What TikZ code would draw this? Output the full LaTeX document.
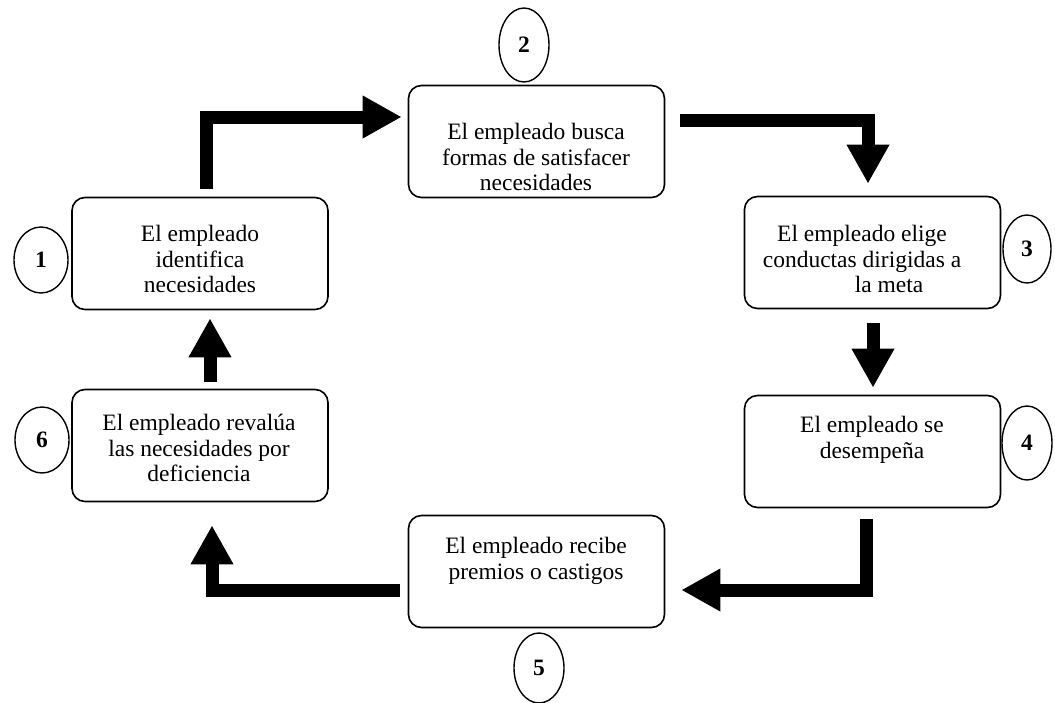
\documentclass[tikz,border=0pt]{standalone}
\usepackage{fontspec}
\setmainfont{Liberation Serif}
\usetikzlibrary{shapes.geometric,arrows.meta,calc}
\begin{document}
\begin{tikzpicture}[x=1pt,y=-1pt,
  box/.style={draw=black,line width=1.6pt,rounded corners=13pt,minimum width=256pt,minimum height=112pt,inner sep=0pt},
  txt/.style={align=center,inner sep=0pt,font=\fontsize{23.5}{25.5}\selectfont},
  num/.style={draw=black,line width=1.4pt,ellipse,inner sep=0pt,font=\fontsize{23.5}{23.5}\selectfont\bfseries},
  blk/.style={line width=13pt,line join=miter,-{Triangle[width=40pt,length=39pt]}}]
\useasboundingbox (0,0) rectangle (1055,702);
% boxes
\node[box] (b1) at (200,253.5) {};
\node[box] (b2) at (536.5,141.5) {};
\node[box] (b3) at (872.5,252.5) {};
\node[box] (b4) at (872.5,451.5) {};
\node[box] (b5) at (536.5,571.5) {};
\node[box] (b6) at (200,445.5) {};
% texts
\node[txt] (t1) at (200,259) {El empleado\\identifica\\necesidades};
\node[txt] (t2) at (536,157) {El empleado busca\\formas de satisfacer\\necesidades};
\node[txt] (t3) at (862,259) {El empleado elige\\conductas dirigidas a\\\hspace*{54pt}la meta};
\node[txt] (t4) at (872,440) {El empleado se\\desempeña};
\node[txt] (t5) at (536,561) {El empleado recibe\\premios o castigos};
\node[txt] (t6) at (199,448) {El empleado revalúa\\las necesidades por\\deficiencia};
% numbers
\node[num,minimum width=54pt,minimum height=66pt] (c1) at (41,260) {1};
\node[num,minimum width=50pt,minimum height=74pt] (c2) at (524,45) {2};
\node[num,minimum width=48pt,minimum height=68pt] (c3) at (1027,249) {3};
\node[num,minimum width=50pt,minimum height=74pt] (c4) at (1027,443) {4};
\node[num,minimum width=50pt,minimum height=70pt] (c5) at (539,668) {5};
\node[num,minimum width=54pt,minimum height=66pt] (c6) at (42,440) {6};
% arrows
\draw[blk] ($(b1.north)+(6,-8)$) |- ($(b2.west)+(-6,-24.5)$);
\draw[blk] ($(b2.east)+(15,-21.5)$) -| ($(b3.north)+(-4.5,-12)$);
\draw[blk] ($(b3.south)+(0.5,14)$) -- ($(b4.north)+(0.5,-7)$);
\draw[blk] ($(b4.south)+(-6.5,11)$) |- ($(b5.east)+(16,18.5)$);
\draw[blk] ($(b5.west)+(-8,18.5)$) -| ($(b6.south)+(12,23)$);
\draw[blk] ($(b6.north)+(10,-7)$) -- ($(b1.south)+(10,8)$);
\end{tikzpicture}
\end{document}
